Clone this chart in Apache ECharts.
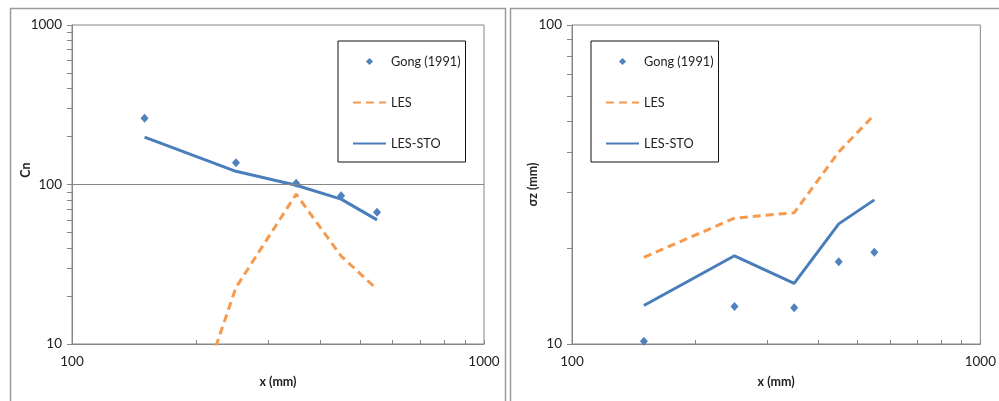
<!DOCTYPE html>
<html>
<head>
<meta charset="utf-8">
<script src="https://cdn.jsdelivr.net/npm/echarts@6/dist/echarts.min.js"></script>
<style>
  html, body { margin: 0; padding: 0; background: #fff; }
  #chart { width: 999px; height: 401px; }
</style>
</head>
<body>
<div id="chart"></div>
<script>
// distance downstream (mm)
const xMm = [150, 250, 350, 450, 550];

// left panel: Cn
const cnGong = [260, 137, 102, 85, 67];
const cnLes = [0.47, 22.6, 87, 35.6, 22];
const cnLesSto = [198, 121, 99, 81, 60];

// right panel: sigma z (mm)
const szGong = [10.2, 13.1, 13.0, 18.1, 19.4];
const szLes = [18.7, 24.8, 25.8, 40, 52.3];
const szLesSto = [13.2, 18.9, 15.5, 23.8, 28.3];

// ticks
const xTicks = [100, 200, 300, 400, 500, 600, 700, 800, 900, 1000];
const xLabels = [100, 1000];
const cnTicks = [10, 20, 30, 40, 50, 60, 70, 80, 90, 100, 200, 300, 400, 500, 600, 700, 800, 900, 1000];
const cnLabels = [10, 100, 1000];
const cnGridlines = [100];
const szTicks = [10, 20, 30, 40, 50, 60, 70, 80, 90, 100];
const szLabels = [10, 100];

const names = ['Gong (1991)', 'LES', 'LES-STO'];
const blue = '#4A7EBB';
const orange = '#F59A4E';
const gray = '#868686';
const font = 'Lato';

function pairs(xs, ys) {
  return xs.map((x, i) => [x, ys[i]]);
}

function xAxis(grid) {
  return {
    type: 'log', logBase: 10, min: 100, max: 1000, gridIndex: grid,
    name: 'x (mm)', nameLocation: 'middle', nameGap: 31, nameMoveOverlap: false,
    nameTextStyle: { fontFamily: font, fontSize: 12.5, fontWeight: 'bold', color: '#222' },
    axisLine: { lineStyle: { color: gray, width: 1 } },
    axisTick: { customValues: xTicks, length: 4, inside: true, lineStyle: { color: gray } },
    axisLabel: { customValues: xLabels, margin: 11, fontFamily: font, fontSize: 13.5, color: '#222',
      formatter: v => String(Math.round(v)) },
    splitLine: { show: false }
  };
}

function yAxis(grid, min, max, name, gap, ticks, labels, pad) {
  return {
    type: 'log', logBase: 10, min: min, max: max, gridIndex: grid,
    name: name, nameLocation: 'middle', nameGap: gap, nameMoveOverlap: false,
    nameTextStyle: { fontFamily: font, fontSize: 12.5, fontWeight: 'bold', color: '#222', padding: pad },
    axisLine: { show: true, lineStyle: { color: gray, width: 1 } },
    axisTick: { show: true, customValues: ticks, length: 5, lineStyle: { color: gray } },
    axisLabel: { customValues: labels, margin: 10, fontFamily: font, fontSize: 13.5, color: '#222',
      formatter: v => String(Math.round(v)) },
    splitLine: { show: false }
  };
}

function legend(left) {
  return {
    orient: 'vertical', left: left, top: 41,
    padding: [14, 5, 12, 14],
    itemWidth: 33, itemHeight: 9, itemGap: 28,
    borderColor: '#111', borderWidth: 1, backgroundColor: '#fff',
    textStyle: { fontFamily: font, fontSize: 12.7, color: '#222' },
    data: [
      { name: names[0], lineStyle: { color: 'rgba(0,0,0,0)' } },
      { name: names[1], itemStyle: { color: 'rgba(0,0,0,0)', borderWidth: 0, opacity: 0 } },
      { name: names[2], itemStyle: { color: 'rgba(0,0,0,0)', borderWidth: 0, opacity: 0 } }
    ]
  };
}

function seriesFor(idx, gong, les, lesSto, gridlines) {
  return [
    {
      name: names[0], type: 'line', xAxisIndex: idx, yAxisIndex: idx,
      data: pairs(xMm, gong), symbol: 'diamond', symbolSize: [8, 9],
      itemStyle: { color: '#4F81BD' },
      lineStyle: { color: 'rgba(0,0,0,0)', width: 0 }, z: 4,
      markLine: {
        silent: true, symbol: 'none', label: { show: false }, animation: false,
        lineStyle: { color: gray, width: 1, type: 'solid' },
        data: gridlines.map(v => ({ yAxis: v }))
      }
    },
    {
      name: names[1], type: 'line', xAxisIndex: idx, yAxisIndex: idx,
      data: pairs(xMm, les), symbol: 'none',
      itemStyle: { color: orange },
      lineStyle: { color: orange, width: 3, type: [8, 5] }, z: 3
    },
    {
      name: names[2], type: 'line', xAxisIndex: idx, yAxisIndex: idx,
      data: pairs(xMm, lesSto), symbol: 'none',
      itemStyle: { color: blue },
      lineStyle: { color: blue, width: 3 }, z: 3
    }
  ];
}

const chart = echarts.init(document.getElementById('chart'), null, { renderer: 'canvas' });
chart.setOption({
  animation: false,
  backgroundColor: '#fff',
  graphic: [
    { type: 'rect', shape: { x: 10.5, y: 8.5, width: 495, height: 420 },
      style: { fill: 'none', stroke: '#9a9a9a', lineWidth: 1.5 }, silent: true },
    { type: 'rect', shape: { x: 510.5, y: 8.5, width: 520, height: 420 },
      style: { fill: 'none', stroke: '#9a9a9a', lineWidth: 1.5 }, silent: true }
  ],
  grid: [
    { left: 72, top: 25, width: 412, height: 319, show: true, borderColor: gray, borderWidth: 1, backgroundColor: 'transparent' },
    { left: 572, top: 25, width: 412, height: 319, show: true, borderColor: gray, borderWidth: 1, backgroundColor: 'transparent' }
  ],
  legend: [legend(338), legend(591)],
  xAxis: [xAxis(0), xAxis(1)],
  yAxis: [
    yAxis(0, 10, 1000, 'Cn', 40, cnTicks, cnLabels, [0, 0, 0, 29]),
    yAxis(1, 10, 100, 'σz (mm)', 33, szTicks, szLabels, 0)
  ],
  series: seriesFor(0, cnGong, cnLes, cnLesSto, cnGridlines).concat(seriesFor(1, szGong, szLes, szLesSto, []))
});
</script>
</body>
</html>
